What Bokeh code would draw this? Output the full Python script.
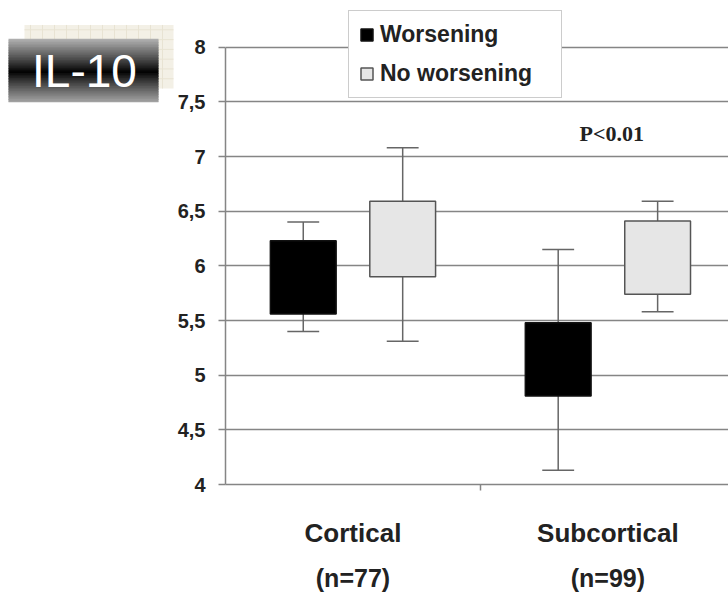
from bokeh.plotting import figure
from bokeh.models import Range1d, FixedTicker, LinearAxis, Legend, LegendItem
from bokeh.layouts import row
from bokeh.embed import file_html
from bokeh.resources import INLINE
from bokeh.core.properties import value

# ---- data ----
categories = ["Cortical", "Subcortical"]
n_labels = ["(n=77)", "(n=99)"]
series = ["Worsening", "No worsening"]
cat_x = [0.5, 1.5]

worse_low = [5.40, 4.13]
worse_q1 = [5.56, 4.81]
worse_q3 = [6.23, 5.48]
worse_high = [6.40, 6.15]

nowo_low = [5.31, 5.58]
nowo_q1 = [5.90, 5.74]
nowo_q3 = [6.59, 6.41]
nowo_high = [7.08, 6.59]

y_ticks = [4, 4.5, 5, 5.5, 6, 6.5, 7, 7.5, 8]
y_tick_labels = ["4", "4,5", "5", "5,5", "6", "6,5", "7", "7,5", "8"]
p_text = "P<0.01"
badge_text = "IL-10"

FONT = "Liberation Sans"
OFF = 0.195
BOX_W = 0.258
CAP_W = 0.125
BADGE_W = 174

# ---- main figure ----
p = figure(width=728 - BADGE_W, height=594, x_range=Range1d(0, 1.973), y_range=Range1d(4, 8.427),
           output_backend="svg", toolbar_location=None,
           min_border_left=49, min_border_right=0, min_border_top=0, min_border_bottom=107,
           x_axis_location=None, y_axis_location=None)
p.outline_line_color = None
p.background_fill_color = "white"
p.border_fill_color = "white"

yaxis = LinearAxis(ticker=FixedTicker(ticks=y_ticks, minor_ticks=[]))
yaxis.major_label_overrides = {t: l for t, l in zip(y_ticks, y_tick_labels)}
yaxis.bounds = (4, 8)
yaxis.axis_line_color = "#858585"
yaxis.axis_line_width = 1.5
yaxis.major_tick_line_color = "#858585"
yaxis.major_tick_line_width = 1.5
yaxis.major_tick_out = 7
yaxis.major_tick_in = 0
yaxis.major_label_standoff = 13
yaxis.major_label_text_font = FONT
yaxis.major_label_text_font_style = "bold"
yaxis.major_label_text_font_size = "20px"
yaxis.major_label_text_color = "#222222"
p.add_layout(yaxis, "left")

xaxis = LinearAxis(ticker=FixedTicker(ticks=cat_x, minor_ticks=[1.0]))
xaxis.major_label_overrides = {t: l for t, l in zip(cat_x, categories)}
xaxis.axis_line_color = "#858585"
xaxis.axis_line_width = 1.5
xaxis.major_tick_line_color = None
xaxis.major_tick_out = 0
xaxis.major_tick_in = 0
xaxis.minor_tick_line_color = "#858585"
xaxis.minor_tick_line_width = 1.5
xaxis.minor_tick_out = 6
xaxis.minor_tick_in = 0
xaxis.major_label_standoff = 27
xaxis.major_label_text_font = FONT
xaxis.major_label_text_font_style = "bold"
xaxis.major_label_text_font_size = "26px"
xaxis.major_label_text_color = "#222222"
p.add_layout(xaxis, "below")

naxis = LinearAxis(ticker=FixedTicker(ticks=cat_x, minor_ticks=[]))
naxis.major_label_overrides = {t: l for t, l in zip(cat_x, n_labels)}
naxis.axis_line_color = None
naxis.major_tick_line_color = None
naxis.minor_tick_line_color = None
naxis.major_tick_out = 0
naxis.major_tick_in = 0
naxis.major_label_standoff = 13
naxis.major_label_text_font = FONT
naxis.major_label_text_font_style = "bold"
naxis.major_label_text_font_size = "25px"
naxis.major_label_text_color = "#222222"
p.add_layout(naxis, "below")

p.ygrid.ticker = FixedTicker(ticks=y_ticks)
p.ygrid.grid_line_color = "#858585"
p.ygrid.grid_line_width = 1.5
p.xgrid.visible = False

x_w = [c - OFF for c in cat_x]
x_n = [c + OFF for c in cat_x]

# whiskers
p.segment(x0=x_w, y0=worse_low, x1=x_w, y1=worse_high, line_color="#666666", line_width=1.5)
p.segment(x0=x_n, y0=nowo_low, x1=x_n, y1=nowo_high, line_color="#666666", line_width=1.5)
for xs, lo, hi in ((x_w, worse_low, worse_high), (x_n, nowo_low, nowo_high)):
    p.segment(x0=[x - CAP_W / 2 for x in xs], y0=lo, x1=[x + CAP_W / 2 for x in xs], y1=lo,
              line_color="#666666", line_width=1.5)
    p.segment(x0=[x - CAP_W / 2 for x in xs], y0=hi, x1=[x + CAP_W / 2 for x in xs], y1=hi,
              line_color="#666666", line_width=1.5)

r_w = p.vbar(x=x_w, width=BOX_W, bottom=worse_q1, top=worse_q3,
             fill_color="black", line_color="#111111", line_width=1.5)
r_n = p.vbar(x=x_n, width=BOX_W, bottom=nowo_q1, top=nowo_q3,
             fill_color="#e6e6e6", line_color="#555555", line_width=1.5)

p.text(x=[1.515], y=[7.21], text=[p_text], text_font=value("Liberation Serif"),
       text_font_style="bold", text_font_size="22px", text_align="center",
       text_baseline="middle", text_color="#222222")

legend = Legend(items=[LegendItem(label=series[0], renderers=[r_w]),
                       LegendItem(label=series[1], renderers=[r_n])],
                location=(123, 386))
legend.label_text_font = FONT
legend.label_text_font_style = "bold"
legend.label_text_font_size = "23px"
legend.label_text_color = "#222222"
legend.label_width = 171
legend.glyph_width = 15
legend.glyph_height = 15
legend.label_standoff = 6
legend.padding = 10
legend.spacing = 12
legend.border_line_color = "#9a9a9a"
legend.border_line_width = 1.5
legend.background_fill_color = "white"
legend.background_fill_alpha = 1.0
p.add_layout(legend)

# ---- badge figure ----
b = figure(width=BADGE_W, height=594, x_range=Range1d(0, BADGE_W), y_range=Range1d(594, 0),
           output_backend="svg", toolbar_location=None, min_border=0,
           x_axis_location=None, y_axis_location=None)
b.outline_line_color = None
b.grid.visible = False
b.background_fill_color = "white"
b.border_fill_color = "white"

b.quad(left=[24], right=[173], top=[30], bottom=[108], fill_color="#f3f0e6", line_color=None)
gx = list(range(30, 173, 12))
gy = list(range(36, 108, 12))
b.segment(x0=gx, y0=[30] * len(gx), x1=gx, y1=[108] * len(gx), line_color="#e8e3d3", line_width=1)
b.segment(x0=[24] * len(gy), y0=gy, x1=[173] * len(gy), y1=gy, line_color="#e8e3d3", line_width=1)

n = 39
tops, bots, cols = [], [], []
for i in range(n):
    t = (i + 0.5) / n
    d = abs(t - 0.52) / 0.52
    lev = int(min(255, 178 * d ** 0.9))
    tops.append(47 + i * 2)
    bots.append(min(125, 47 + i * 2 + 3))
    cols.append("#%02x%02x%02x" % (lev, lev, lev))
b.quad(left=[8] * n, right=[158] * n, top=tops, bottom=bots, fill_color=cols, line_color=None)
b.text(x=[84], y=[87], text=[badge_text], text_color="white", text_font=value(FONT),
       text_font_size="46px", text_align="center", text_baseline="middle")

layout = row(b, p, spacing=0)
open("out.html", "w").write(file_html(layout, INLINE))
